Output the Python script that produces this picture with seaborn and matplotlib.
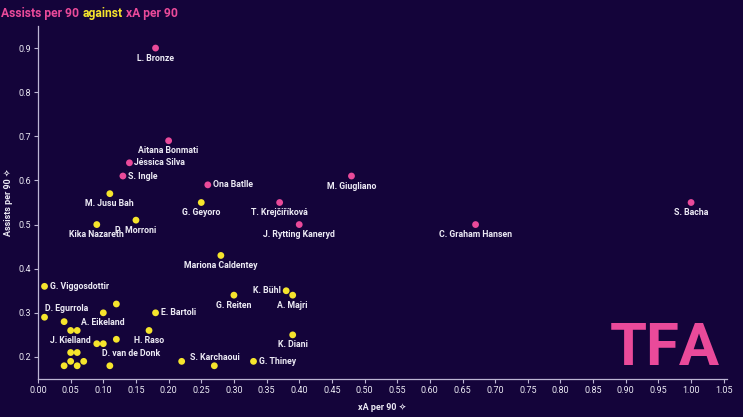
import matplotlib
matplotlib.use("Agg")
import matplotlib.pyplot as plt
import seaborn as sns
import pandas as pd

# ---------------- data ----------------
players = [
    "L. Bronze", "Aitana Bonmati", "Jéssica Silva", "S. Ingle", "Ona Batlle",
    "M. Giugliano", "T. Krejčiříková", "J. Rytting Kaneryd", "C. Graham Hansen", "S. Bacha",
    "M. Jusu Bah", "G. Geyoro", "Kika Nazareth", "P. Morroni", "Mariona Caldentey",
    "G. Viggosdottir", "D. Egurrola", "", "A. Eikeland", "",
    "J. Kielland", "", "E. Bartoli", "H. Raso", "D. van de Donk",
    "", "", "", "", "",
    "", "", "", "", "S. Karchaoui",
    "", "G. Reiten", "G. Thiney", "K. Bühl", "A. Majri",
    "K. Diani",
]
xa_per90 = [
    0.18, 0.20, 0.14, 0.13, 0.26,
    0.48, 0.37, 0.40, 0.67, 1.00,
    0.11, 0.25, 0.09, 0.15, 0.28,
    0.01, 0.01, 0.12, 0.10, 0.04,
    0.05, 0.06, 0.18, 0.17, 0.12,
    0.09, 0.10, 0.05, 0.06, 0.05,
    0.07, 0.04, 0.06, 0.11, 0.22,
    0.27, 0.30, 0.33, 0.38, 0.39,
    0.39,
]
assists_per90 = [
    0.90, 0.69, 0.64, 0.61, 0.59,
    0.61, 0.55, 0.50, 0.50, 0.55,
    0.57, 0.55, 0.50, 0.51, 0.43,
    0.36, 0.29, 0.32, 0.30, 0.28,
    0.26, 0.26, 0.30, 0.26, 0.24,
    0.23, 0.23, 0.21, 0.21, 0.19,
    0.19, 0.18, 0.18, 0.18, 0.19,
    0.18, 0.34, 0.19, 0.35, 0.34,
    0.25,
]
groups = ["top"] * 10 + ["other"] * 31

title_parts = ["Assists per 90", "against", "xA per 90"]
x_label = "xA per 90 ✧"
y_label = "Assists per 90 ✧"
x_ticks = [0.00, 0.05, 0.10, 0.15, 0.20, 0.25, 0.30, 0.35, 0.40, 0.45, 0.50,
           0.55, 0.60, 0.65, 0.70, 0.75, 0.80, 0.85, 0.90, 0.95, 1.00, 1.05]
y_ticks = [0.2, 0.3, 0.4, 0.5, 0.6, 0.7, 0.8, 0.9]
logo_text = "TFA"

# ---------------- style ----------------
BG = "#14043a"
PINK = "#ea4a9a"
YELLOW = "#f6e52c"
TXT = "#eceaf4"
AXC = "#bdb6d4"

sns.set_theme(style="dark")
plt.rcParams["font.family"] = ["Roboto", "DejaVu Sans"]

W, H = 743, 417
fig = plt.figure(figsize=(W / 100, H / 100), dpi=100, facecolor=BG)
ax = fig.add_axes([38 / W, 38 / H, (727 - 38) / W, (379 - 26) / H])
ax.set_facecolor(BG)

df = pd.DataFrame({"player": players, "xA": xa_per90, "Assists": assists_per90, "group": groups})
sns.scatterplot(data=df, x="xA", y="Assists", hue="group",
                palette={"top": PINK, "other": YELLOW}, s=24, linewidth=0,
                legend=False, ax=ax, zorder=3)

ax.set_xlim(0, 1.055)
ax.set_ylim(0.15, 0.95)
ax.set_xticks(x_ticks)
ax.set_xticklabels([f"{t:.2f}" for t in x_ticks])
ax.set_yticks(y_ticks)
ax.set_yticklabels([f"{t:.1f}" for t in y_ticks])
ax.tick_params(axis="both", colors=AXC, labelcolor=TXT, labelsize=6.5,
               length=3, width=0.8, direction="out", bottom=True, left=True, pad=2)
for side in ["top", "right"]:
    ax.spines[side].set_visible(False)
for side in ["left", "bottom"]:
    ax.spines[side].set_visible(True)
    ax.spines[side].set_color(AXC)
    ax.spines[side].set_linewidth(0.9)
ax.grid(False)
ax.set_xlabel(x_label, color=TXT, fontsize=6.5, fontweight="bold", labelpad=6)
ax.set_ylabel(y_label, color=TXT, fontsize=6.5, fontweight="bold", labelpad=4)

# label placement (pixel offsets of label relative to its dot)
PX = 0.72
placement = {
    "Jéssica Silva": ("left", 5, 0), "S. Ingle": ("left", 5, 0), "Ona Batlle": ("left", 5, 0),
    "G. Viggosdottir": ("left", 5, 0), "E. Bartoli": ("left", 5, 0), "G. Thiney": ("left", 5, 0),
    "K. Bühl": ("right", -5, 0), "D. Egurrola": ("center", 22, 9),
    "D. van de Donk": ("center", 15, -14), "S. Karchaoui": ("left", 8, 4),
}
for name, xv, yv in zip(players, xa_per90, assists_per90):
    if not name:
        continue
    ha, dx, dy = placement.get(name, ("center", 0, -10))
    ax.annotate(name, (xv, yv), xytext=(dx * PX, dy * PX), textcoords="offset points",
                ha=ha, va="center", color=TXT, fontsize=6.3, fontweight="bold", zorder=4)

# multi-coloured title
renderer = fig.canvas.get_renderer()
x0 = 1 / W
colors = [PINK, YELLOW, PINK]
for part, col in zip(title_parts, colors):
    t = fig.text(x0, 1 - 13 / H, part, color=col, fontsize=8.7, fontweight="bold",
                 ha="left", va="center")
    bb = t.get_window_extent(renderer=renderer)
    x0 = (bb.x1 + 3.5) / W

# logo
fig.text(665 / W, 1 - 349 / H, logo_text, color=PINK, fontsize=43, fontweight="bold",
         ha="center", va="center", family=["Roboto", "DejaVu Sans"])

fig.savefig("out.png", dpi=100, facecolor=BG)
